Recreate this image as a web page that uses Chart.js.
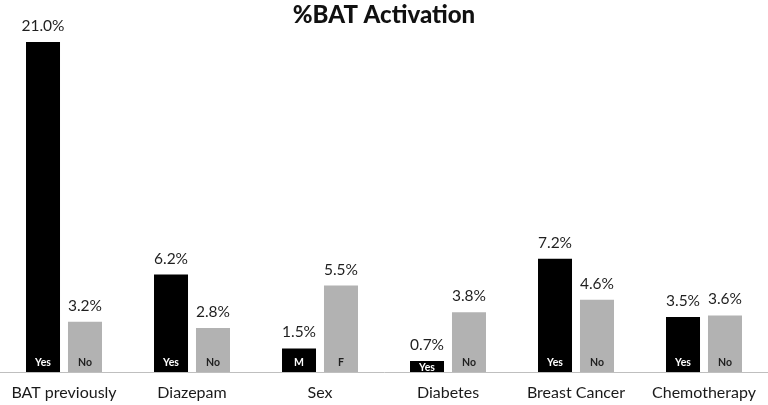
<!DOCTYPE html>
<html>
<head>
<meta charset="utf-8">
<script src="https://cdn.jsdelivr.net/npm/chart.js@4/dist/chart.umd.min.js"></script>
<style>
  html, body { margin: 0; padding: 0; background: #fff; }
  #wrap { width: 768px; height: 405px; position: relative; }
</style>
</head>
<body>
<div id="wrap"><canvas id="c"></canvas></div>
<script>
const categories = ["BAT previously", "Diazepam", "Sex", "Diabetes", "Breast Cancer", "Chemotherapy"];
const groupAValues = [21.0, 6.2, 1.5, 0.7, 7.2, 3.5];
const groupBValues = [3.2, 2.8, 5.5, 3.8, 4.6, 3.6];
const groupALabels = ["Yes", "Yes", "M", "Yes", "Yes", "Yes"];
const groupBLabels = ["No", "No", "F", "No", "No", "No"];
const chartTitle = "%BAT Activation";

const FONT = "Lato, 'Liberation Sans', sans-serif";

const labelPlugin = {
  id: 'barLabels',
  afterDatasetsDraw(chart) {
    const ctx = chart.ctx;
    const inner = [groupALabels, groupBLabels];
    const innerColor = ['#ffffff', '#1f1f1f'];
    chart.data.datasets.forEach((ds, di) => {
      const meta = chart.getDatasetMeta(di);
      meta.data.forEach((bar, i) => {
        const v = ds.data[i];
        ctx.save();
        ctx.textAlign = 'center';
        ctx.textBaseline = 'middle';
        ctx.fillStyle = '#1f1f1f';
        ctx.font = "15.5px " + FONT;
        ctx.fillText(v.toFixed(1) + '%', bar.x, bar.y - 16);
        ctx.font = "bold 10.5px " + FONT;
        ctx.fillStyle = innerColor[di];
        const iy = Math.max(bar.base - 9.5, (bar.y + bar.base) / 2 + 1);
        ctx.fillText(inner[di][i], bar.x, iy);
        ctx.restore();
      });
    });
  }
};

new Chart(document.getElementById('c'), {
  type: 'bar',
  data: {
    labels: categories,
    datasets: [
      { data: groupAValues, backgroundColor: '#000000', barPercentage: 0.81, categoryPercentage: 0.656 },
      { data: groupBValues, backgroundColor: '#b2b2b2', barPercentage: 0.81, categoryPercentage: 0.656 }
    ]
  },
  options: {
    responsive: true,
    maintainAspectRatio: false,
    animation: false,
    layout: { padding: { left: 0, right: 0, top: 0, bottom: 0 } },
    plugins: {
      legend: { display: false },
      tooltip: { enabled: false },
      title: {
        display: true,
        text: chartTitle,
        color: '#111111',
        font: { family: FONT, size: 24, weight: '900', lineHeight: 1.2 },
        padding: { top: 1, bottom: 12.2 }
      }
    },
    scales: {
      x: {
        grid: { display: false, drawTicks: false },
        border: { display: true, color: '#bfbfbf', width: 1 },
        ticks: { color: '#1a1a1a', font: { family: FONT, size: 16, lineHeight: 1.2 }, padding: 11, maxRotation: 0, autoSkip: false },
        afterFit: (s) => { s.height = 33; }
      },
      y: {
        display: false,
        min: 0,
        max: 21
      }
    }
  },
  plugins: [labelPlugin]
});
</script>
</body>
</html>
